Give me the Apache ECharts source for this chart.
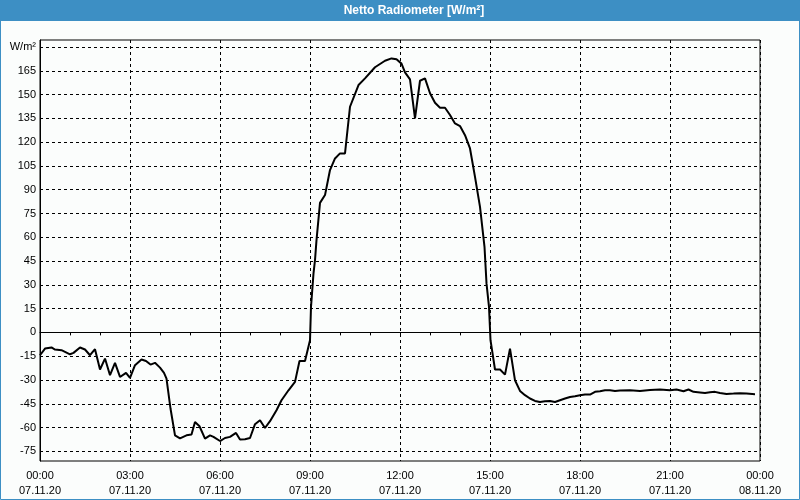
<!DOCTYPE html>
<html>
<head>
<meta charset="utf-8">
<script src="https://cdn.jsdelivr.net/npm/echarts@6/dist/echarts.min.js"></script>
<style>
html,body{margin:0;padding:0;background:#fbfdfc;}
#chart{width:800px;height:500px;}
</style>
</head>
<body>
<div id="chart"></div>
<script>
// Time of each sample, minutes after 07.11.20 00:00
const minutes = [
  0, 10, 23, 30, 43, 60, 67, 80, 90, 100, 110, 120, 130, 140, 150, 160, 172, 180, 190, 203,
  212, 221, 230, 240, 248, 253, 261, 270, 280, 293, 303, 310, 319, 330, 340, 347, 360, 370, 380, 392,
  400, 410, 420, 430, 440, 450, 460, 473, 483, 497, 510, 519, 530, 540, 542, 547, 550, 553, 560, 570,
  580, 590, 600, 610, 620, 637, 650, 670, 690, 703, 713, 723, 730, 740, 750, 760, 770, 780, 790, 800,
  810, 820, 830, 840, 850, 860, 870, 880, 889, 893, 898, 901, 910, 920, 930, 940, 950, 960, 970, 980,
  990, 1000, 1010, 1020, 1030, 1040, 1050, 1060, 1070, 1080, 1090, 1100, 1110, 1120, 1130, 1140, 1150, 1160, 1180, 1200,
  1220, 1240, 1260, 1273, 1287, 1297, 1307, 1320, 1330, 1340, 1350, 1360, 1373, 1387, 1400, 1413, 1430
];
// Net radiation, W/m²
const values = [
  -14.4, -10.2, -9.5, -10.8, -11.2, -13.8, -12.9, -9.5, -10.8, -14.4, -10.6, -23.4, -16.5, -27, -19.2, -28.1, -25.5, -28.7, -20.7, -17.1,
  -18, -20.3, -19.2, -22.2, -25.5, -29.1, -48, -64.9, -66.8, -64.9, -64.4, -56.5, -59.2, -67, -64.9, -65.9, -68.5, -66.6, -65.9, -63.4,
  -67.6, -67.4, -66.6, -57.9, -55.4, -60.3, -56, -49.1, -42.8, -36.5, -31.2, -18, -18, -4.9, 16.1, 37.2, 45.6, 58.2, 81.7, 86.6,
  102.4, 109.7, 112.9, 112.9, 142.3, 156, 160.2, 167.2, 171.3, 172.8, 172.2, 169.5, 164, 159.6, 135, 158.7, 160.2, 150.8, 144.8, 141.7,
  141.7, 137.1, 131.8, 130.1, 124.4, 116, 98.1, 79.2, 54, 30.9, 16.1, -4.9, -23.4, -23.4, -26.6, -10.2, -30.2, -36.9, -39.6, -41.7,
  -43.2, -43.9, -43.4, -43.2, -43.9, -42.8, -41.7, -40.7, -40.3, -39.6, -39.2, -39.2, -37.5, -37.1, -36.5, -36.5, -36.9, -36.7, -36.5, -36.9,
  -36.3, -36, -36.5, -36, -37.1, -36, -37.5, -37.9, -38.2, -37.7, -37.5, -38.2, -38.8, -38.6, -38.4, -38.6, -39
];
// Axis tick labels
const yTicks = [-75, -60, -45, -30, -15, 0, 15, 30, 45, 60, 75, 90, 105, 120, 135, 150, 165, 180];
const yUnitLabel = 'W/m²';
const xTickMinutes = [0, 180, 360, 540, 720, 900, 1080, 1260, 1440];
const xTimeLabels = ['00:00', '03:00', '06:00', '09:00', '12:00', '15:00', '18:00', '21:00', '00:00'];
const xDateLabels = ['07.11.20', '07.11.20', '07.11.20', '07.11.20', '07.11.20', '07.11.20', '07.11.20', '07.11.20', '08.11.20'];
const titleText = 'Netto Radiometer [W/m²]';

const data = minutes.map((m, i) => [m, values[i]]);
const font = '"Liberation Sans", Arial, sans-serif';
const chart = echarts.init(document.getElementById('chart'));
chart.setOption({
  animation: false,
  backgroundColor: '#fbfdfc',
  graphic: [
    { type: 'rect', left: 0, top: 0, shape: { width: 800, height: 21 }, style: { fill: '#3d8fc4' }, z: 0 },
    { type: 'text', x: 414, y: 11, style: { text: titleText, fill: '#ffffff', font: 'bold 12px ' + font, textAlign: 'center', textVerticalAlign: 'middle' }, z: 1 },
    { type: 'rect', shape: { x: 0.5, y: 0.5, width: 799, height: 499 }, style: { fill: 'none', stroke: '#3d8fc4', lineWidth: 1 }, z: 1 }
  ],
  grid: { left: 40, right: 40, top: 40, bottom: 39, show: true, borderColor: '#000', borderWidth: 1, backgroundColor: 'transparent' },
  xAxis: {
    type: 'value', min: 0, max: 1440, interval: 180,
    axisLine: { show: true, lineStyle: { color: '#000', width: 1 } },
    axisTick: { show: true, length: 3, lineStyle: { color: '#000' } },
    minorTick: { show: true, splitNumber: 3, length: 3, lineStyle: { color: '#000' } },
    splitLine: { show: true, lineStyle: { color: '#000', type: [3, 3], width: 1 } },
    axisLabel: {
      margin: 7, color: '#000', fontFamily: font, fontSize: 11, lineHeight: 15,
      formatter: function (v) {
        const i = xTickMinutes.indexOf(Math.round(v));
        return i >= 0 ? xTimeLabels[i] + '\n' + xDateLabels[i] : '';
      }
    }
  },
  yAxis: {
    type: 'value', min: -81.1, max: 184.4,
    axisLine: { show: true, lineStyle: { color: '#000', width: 1 } },
    axisTick: { show: false, customValues: yTicks },
    splitLine: { show: true, lineStyle: { color: '#000', type: [3, 3], width: 1 } },
    axisLabel: {
      customValues: yTicks, margin: 4, color: '#000', fontFamily: font, fontSize: 11,
      formatter: function (v) { return v === 180 ? yUnitLabel : String(v); }
    }
  },
  series: [{
    type: 'line', data: data, showSymbol: false, smooth: false,
    lineStyle: { color: '#000', width: 2 }, itemStyle: { color: '#000' }
  }]
});
</script>
</body>
</html>
